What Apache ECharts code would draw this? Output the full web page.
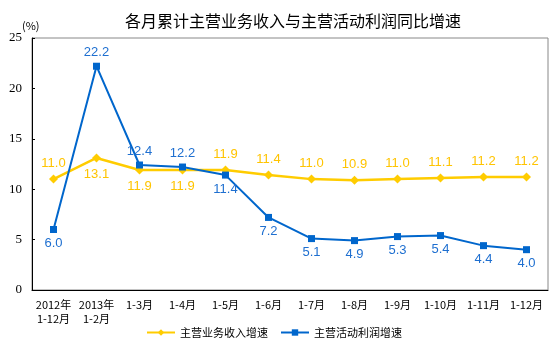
<!DOCTYPE html>
<html>
<head>
<meta charset="utf-8">
<script src="https://cdn.jsdelivr.net/npm/echarts@6/dist/echarts.min.js"></script>
<style>
  html, body { margin: 0; padding: 0; background: #fff; }
  #chart { width: 554px; height: 351px; }
</style>
</head>
<body>
<div id="chart"></div>
<script>
// 横轴分类
const categories = ['2012年\n1-12月', '2013年\n1-2月', '1-3月', '1-4月', '1-5月', '1-6月',
  '1-7月', '1-8月', '1-9月', '1-10月', '1-11月', '1-12月']
// 主营业务收入增速
const revenue = [11.0, 13.1, 11.9, 11.9, 11.9, 11.4, 11.0, 10.9, 11.0, 11.1, 11.2, 11.2]
// 主营活动利润增速
const profit = [6.0, 22.2, 12.4, 12.2, 11.4, 7.2, 5.1, 4.9, 5.3, 5.4, 4.4, 4.0]
// 标签位置 (t=上, b=下)
const revenuePos = ['t', 'b', 'b', 'b', 't', 't', 't', 't', 't', 't', 't', 't']
const profitPos = ['b', 't', 't', 't', 'b', 'b', 'b', 'b', 'b', 'b', 'b', 'b']

const yellow = '#FFCC00'
const blue = '#0066CC'

function withPos (vals, pos) {
  return vals.map((v, i) => ({
    value: v,
    label: { position: pos[i] === 't' ? 'top' : 'bottom' }
  }))
}

const myChart = echarts.init(document.getElementById('chart'))
const options = {
  backgroundColor: '#FFFFFF',
  animation: false,
  title: {
    text: '各月累计主营业务收入与主营活动利润同比增速',
    left: 120,
    top: 8,
    textStyle: { fontFamily: 'Noto Sans CJK SC', fontSize: 16, fontWeight: 'normal', color: '#000' }
  },
  graphic: [{
    type: 'text',
    left: 22,
    top: 20,
    style: { text: '(%)', fontFamily: 'Noto Sans CJK SC', fontSize: 11, fill: '#000' }
  }],
  legend: {
    data: ['主营业务收入增速', '主营活动利润增速'],
    bottom: 8,
    left: 141,
    itemWidth: 28,
    itemHeight: 8,
    itemGap: 12,
    textStyle: { fontFamily: 'Noto Sans CJK SC', fontSize: 11, color: '#000' }
  },
  grid: {
    left: 32,
    right: 6,
    top: 38,
    bottom: 61,
    show: true,
    borderColor: '#888',
    borderWidth: 1
  },
  xAxis: {
    type: 'category',
    data: categories,
    boundaryGap: true,
    axisLine: { lineStyle: { color: '#000' } },
    axisTick: { inside: true, length: 4, lineStyle: { color: '#000' } },
    axisLabel: {
      interval: 0,
      margin: 8,
      lineHeight: 14,
      fontFamily: 'Noto Sans CJK SC',
      fontSize: 11,
      color: '#000',
      align: 'center'
    }
  },
  yAxis: {
    type: 'value',
    min: 0,
    max: 25,
    interval: 5,
    axisLine: { show: true, lineStyle: { color: '#000' } },
    axisTick: { show: true, inside: true, length: 3, lineStyle: { color: '#000' } },
    axisLabel: { fontFamily: 'Liberation Serif', fontSize: 13, color: '#000', margin: 10 },
    splitLine: { show: false }
  },
  series: [
    {
      name: '主营业务收入增速',
      type: 'line',
      data: withPos(revenue, revenuePos),
      symbol: 'diamond',
      symbolSize: 9,
      itemStyle: { color: yellow },
      lineStyle: { color: yellow, width: 2.5 },
      label: {
        show: true,
        distance: 5,
        formatter: p => p.value.toFixed(1),
        fontFamily: 'Liberation Sans',
        fontSize: 13,
        color: '#FFC400'
      }
    },
    {
      name: '主营活动利润增速',
      type: 'line',
      data: withPos(profit, profitPos),
      symbol: 'rect',
      symbolSize: 7,
      itemStyle: { color: blue },
      lineStyle: { color: blue, width: 2 },
      label: {
        show: true,
        distance: 4,
        formatter: p => p.value.toFixed(1),
        fontFamily: 'Liberation Sans',
        fontSize: 13,
        color: '#1E6FD0'
      }
    }
  ]
}
myChart.setOption(options)
</script>
</body>
</html>
